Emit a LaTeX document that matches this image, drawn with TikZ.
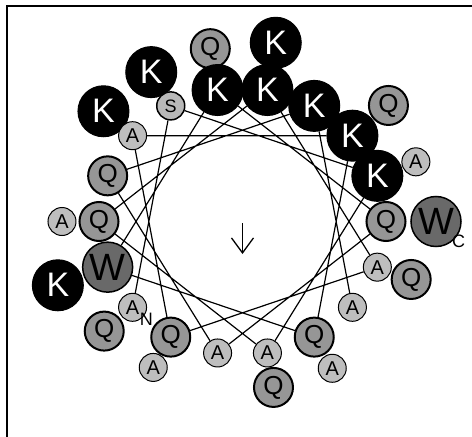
\documentclass[tikz,border=0pt]{standalone}
\usepackage{fontspec}
\setmainfont{Liberation Sans}
\usetikzlibrary{arrows.meta,calc,backgrounds}

\definecolor{glngray}{RGB}{150,150,150}
\definecolor{alagray}{RGB}{190,190,190}
\definecolor{sergray}{RGB}{185,185,185}
\definecolor{trpgray}{RGB}{105,105,105}

\tikzset{
  res/.style={circle, draw=black, inner sep=0pt, text=black},
  lys/.style={res, fill=black, text=white, line width=1pt, minimum size=51pt,
    font=\fontsize{34}{34}\selectfont},
  gln/.style={res, fill=glngray, line width=2pt, minimum size=39pt,
    font=\fontsize{26}{26}\selectfont},
  ala/.style={res, fill=alagray, line width=1pt, minimum size=28pt,
    font=\fontsize{20}{20}\selectfont},
  ser/.style={res, fill=sergray, line width=1.5pt, minimum size=28pt,
    font=\fontsize{18}{18}\selectfont},
  trp/.style={res, fill=trpgray, line width=1.5pt, minimum size=50pt,
    font=\fontsize{38}{38}\selectfont},
  wheel/.style={line width=1.2pt},
  moment/.style={line width=1.3pt, -{Straight Barb[length=15pt,width=22pt]}},
  term/.style={inner sep=0pt, font=\fontsize{18}{18}\selectfont}
}

\begin{document}
\begin{tikzpicture}[x=1pt,y=1pt]
  \useasboundingbox (-242.5,-215.5) rectangle (229.5,221.5);
  % frame, only top and left edges
  \draw[line width=2pt] (-235.5,-215.5) -- (-235.5,215.5) -- (229.5,215.5);
  % wheel positions, 100 degrees per residue
  \coordinate (p1)  at (220:143.5 and 133.5);
  \coordinate (p2)  at (120:143.5 and 133.5);
  \coordinate (p3)  at (20:143.5 and 133.5);
  \coordinate (p4)  at (280:143.5 and 133.5);
  \coordinate (p5)  at (180:143.5 and 133.5);
  \coordinate (p6)  at (80:143.5 and 133.5);
  \coordinate (p7)  at (340:143.5 and 133.5);
  \coordinate (p8)  at (240:143.5 and 133.5);
  \coordinate (p9)  at (140:143.5 and 133.5);
  \coordinate (p10) at (40:143.5 and 133.5);
  \coordinate (p11) at (300:143.5 and 133.5);
  \coordinate (p12) at (200:143.5 and 133.5);
  \coordinate (p13) at (100:143.5 and 133.5);
  \coordinate (p14) at (0:143.5 and 133.5);
  \coordinate (p15) at (260:143.5 and 133.5);
  \coordinate (p16) at (160:143.5 and 133.5);
  \coordinate (p17) at (60:143.5 and 133.5);
  \coordinate (p18) at (320:143.5 and 133.5);
  % second turn, stacked outside
  \node[gln] (q19) at ($(p1)+(220:37)$)  {Q};
  \node[lys] (k20) at ($(p2)+(120:39)$)  {K};
  \node[ala] (a21) at ($(p3)+(20:41)$)   {A};
  \node[gln] (q22) at ($(p4)+(280:35)$)  {Q};
  \node[ala] (a23) at ($(p5)+(180:37)$)  {A};
  \node[lys] (k24) at ($(p6)+(80:48)$)   {K};
  \node[gln] (q25) at ($(p7)+(340:36)$)  {Q};
  \node[ala] (a26) at ($(p8)+(240:35)$)  {A};
  \node[lys] (k27) at ($(p9)+(140:38)$)  {K};
  \node[gln] (q28) at ($(p10)+(40:47)$)  {Q};
  \node[ala] (a29) at ($(p11)+(300:36)$) {A};
  \node[lys] (k30) at ($(p12)+(200:53)$) {K};
  \node[gln] (q31) at ($(p13)+(100:42)$) {Q};
  \node[trp] (w32) at ($(p14)+(0:50)$)   {W};
  % first turn
  \node[ala] (a1)  at (p1)  {A};
  \node[ser] (s2)  at (p2)  {S};
  \node[lys] (k3)  at (p3)  {K};
  \node[ala] (a4)  at (p4)  {A};
  \node[gln] (q5)  at (p5)  {Q};
  \node[lys] (k6)  at (p6)  {K};
  \node[ala] (a7)  at (p7)  {A};
  \node[gln] (q8)  at (p8)  {Q};
  \node[ala] (a9)  at (p9)  {A};
  \node[lys] (k10) at (p10) {K};
  \node[gln] (q11) at (p11) {Q};
  \node[trp] (w12) at (p12) {W};
  \node[lys] (k13) at (p13) {K};
  \node[gln] (q14) at (p14) {Q};
  \node[ala] (a15) at (p15) {A};
  \node[gln] (q16) at (p16) {Q};
  \node[lys] (k17) at (p17) {K};
  \node[ala] (a18) at (p18) {A};
  % backbone of the first turn
  \begin{scope}[on background layer]
    \draw[wheel] (a1) -- (s2) -- (k3) -- (a4) -- (q5) -- (k6) -- (a7) -- (q8)
      -- (a9) -- (k10) -- (q11) -- (w12) -- (k13) -- (q14) -- (a15) -- (q16)
      -- (k17) -- (a18);
  \end{scope}
  % moment arrow
  \coordinate (ctr) at (0,-1.5);
  \coordinate (tip) at (0,-32.5);
  \draw[moment] (ctr) -- (tip);
  % termini
  \node[term] (nterm) at ($(a1)+(-40:18)$)  {N};
  \node[term] (cterm) at ($(w32)+(-41:30)$) {C};
\end{tikzpicture}
\end{document}
